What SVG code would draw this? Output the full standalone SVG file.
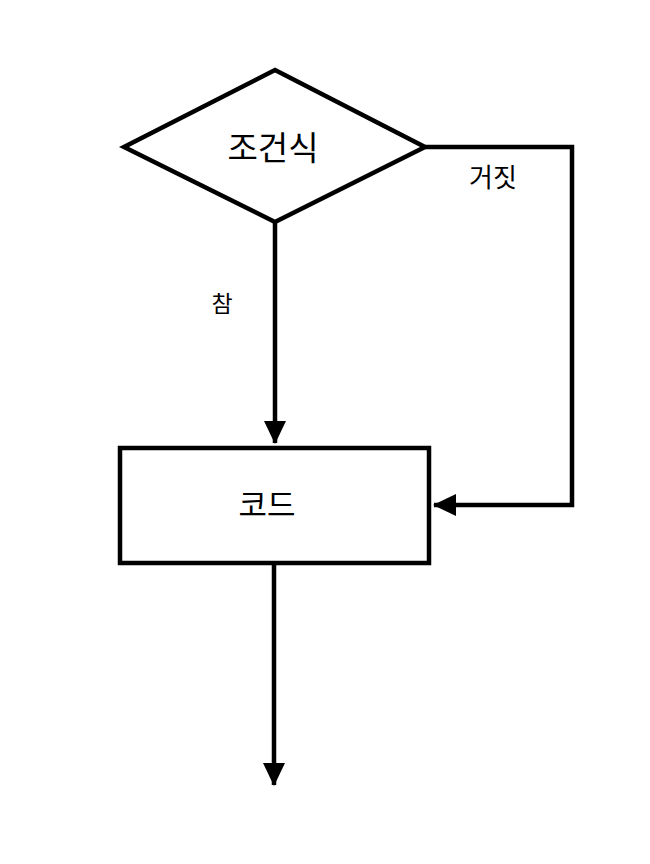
<svg xmlns="http://www.w3.org/2000/svg" width="650" height="864" viewBox="0 0 650 864">
<style>
.shape{fill:#fff;stroke:#000;stroke-width:4.5}
.conn{fill:none;stroke:#000;stroke-width:4.5}
.t{font-family:"Noto Sans CJK KR","Noto Sans",sans-serif;fill:#000;text-anchor:middle;dominant-baseline:central}
</style>
<defs>
<marker id="ah" markerUnits="userSpaceOnUse" markerWidth="24" markerHeight="24" viewBox="0 0 24 24" refX="22" refY="12" orient="auto">
<path d="M0,1 L23,12 L0,23 Z" fill="#000"/>
</marker>
</defs>
<rect width="650" height="864" fill="#fff"/>
<g id="cond">
<polygon class="shape" points="275,70 425,147 275,222 124,147"/>
<text class="t" x="273" y="146" font-size="33">조건식</text>
</g>
<g id="code">
<rect class="shape" x="120" y="448" width="309" height="115"/>
<text class="t" x="267" y="502" font-size="31">코드</text>
</g>
<g id="connectors">
<path class="conn" d="M275,222 V443" marker-end="url(#ah)"/>
<path class="conn" d="M425,147 H572 V505 H434" marker-end="url(#ah)"/>
<path class="conn" d="M274,563 V785" marker-end="url(#ah)"/>
<text class="t" x="493" y="175" font-size="26">거짓</text>
<text class="t" x="222" y="302" font-size="23">참</text>
</g>
</svg>
